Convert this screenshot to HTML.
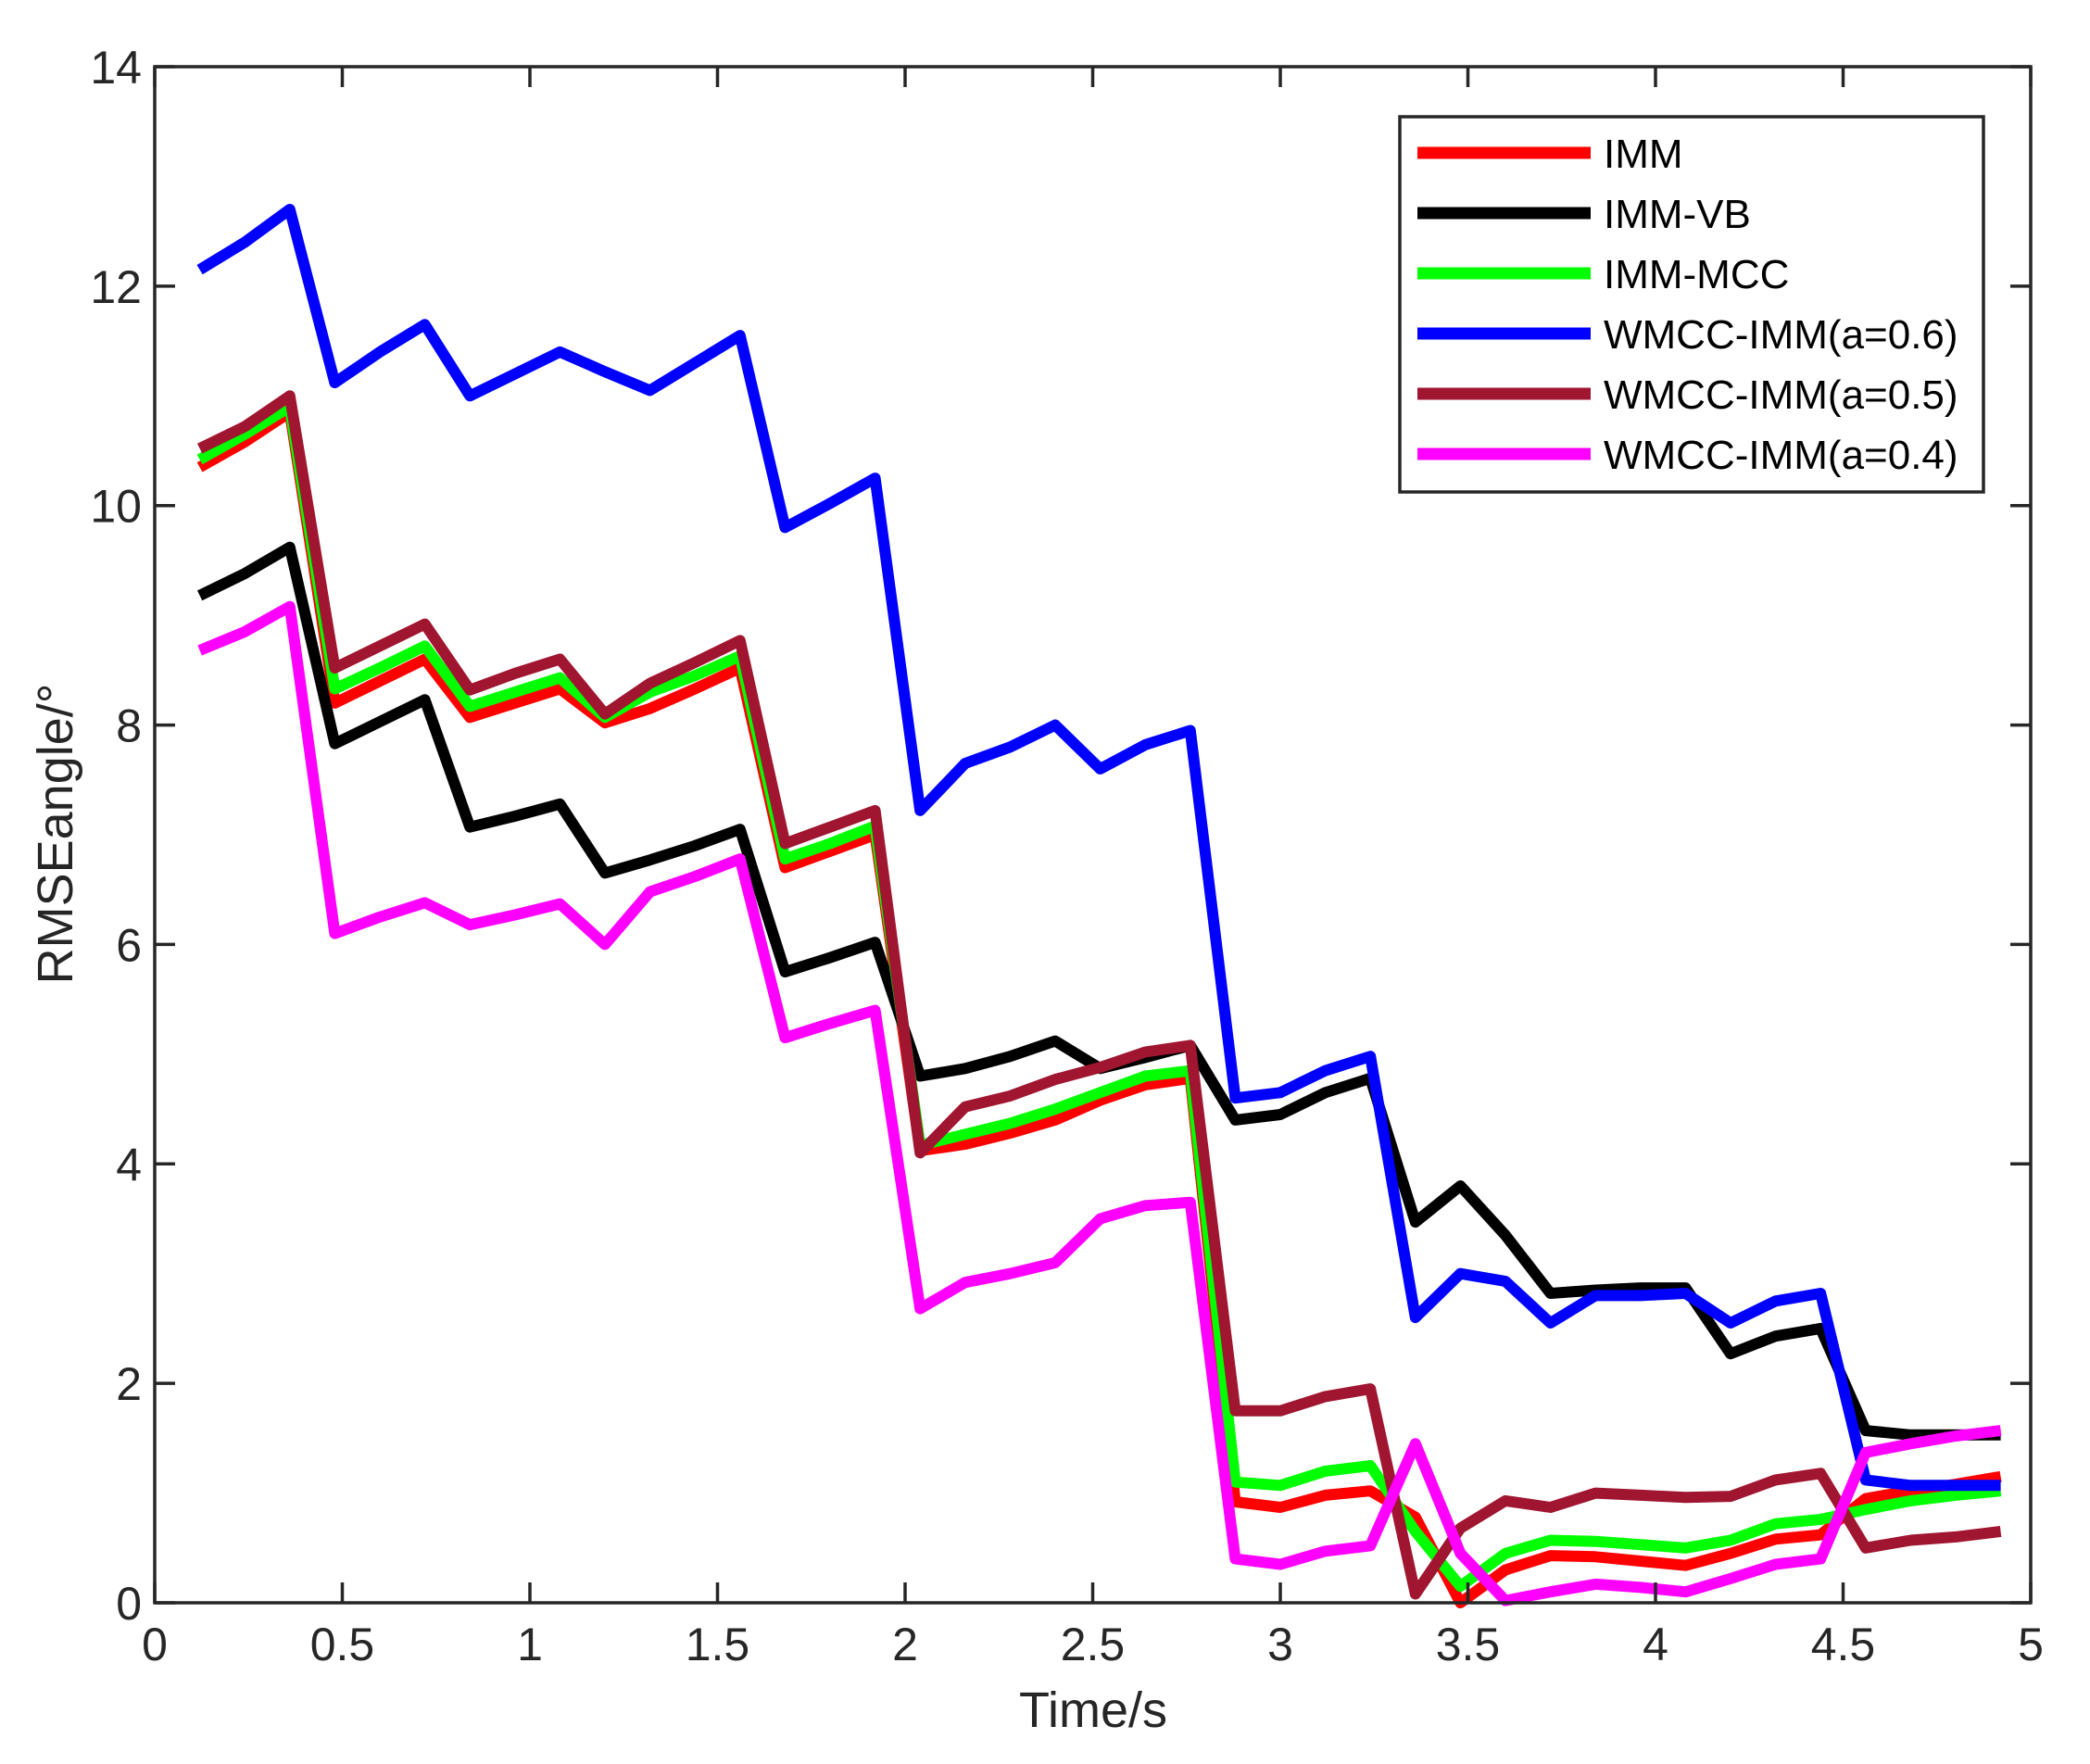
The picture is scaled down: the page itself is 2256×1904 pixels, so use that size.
<!DOCTYPE html>
<html><head><meta charset="utf-8"><style>html,body{margin:0;padding:0;background:#fff}</style></head>
<body>
<svg width="2256" height="1899" viewBox="0 0 2256 1899" xmlns="http://www.w3.org/2000/svg" font-family="Liberation Sans, Arial, sans-serif">
<rect width="2256" height="1899" fill="#fff"/>
<g id="lines" fill="none" stroke-width="12" stroke-linejoin="round" stroke-linecap="butt"></g>
<g stroke="#262626" stroke-width="3.5" fill="none">
<rect x="167" y="72" width="2025" height="1658"/>
<g id="ticks"></g>
</g>
<g id="labels" fill="#262626" font-size="50"></g>
<text x="1180" y="1864" font-size="54" fill="#262626" text-anchor="middle">Time/s</text>
<text transform="translate(78,900) rotate(-90)" font-size="54" fill="#262626" text-anchor="middle">RMSEangle/°</text>
<rect x="1511" y="126" width="630" height="405" fill="#fff" stroke="#262626" stroke-width="3.5"/>
<g id="legend" font-size="44" fill="#000"></g>
<script>
var L=167,R=2192,T=72,B=1730;
function X(t){return L+(t/5)*(R-L);}
function Y(v){return B-(v/14)*(B-T);}
var S=[
["#ff0000","IMM",[10.35,10.58,10.85,8.2,8.4,8.6,8.07,8.2,8.33,8.02,8.15,8.33,8.52,6.7,6.85,7.0,4.12,4.18,4.28,4.4,4.58,4.72,4.78,0.92,0.87,0.98,1.02,0.78,0.0,0.3,0.43,0.42,0.38,0.34,0.45,0.58,0.62,0.95,1.02,1.08,1.15]],
["#000000","IMM-VB",[9.18,9.38,9.62,7.83,8.03,8.23,7.07,7.17,7.28,6.65,6.77,6.9,7.05,5.75,5.88,6.02,4.8,4.87,4.98,5.12,4.87,4.97,5.08,4.4,4.45,4.65,4.78,3.47,3.8,3.35,2.82,2.85,2.87,2.87,2.27,2.43,2.5,1.57,1.53,1.53,1.53]],
["#00ff00","IMM-MCC",[10.42,10.65,10.9,8.33,8.52,8.72,8.17,8.3,8.43,8.07,8.3,8.45,8.63,6.78,6.92,7.08,4.17,4.27,4.37,4.5,4.65,4.8,4.85,1.1,1.07,1.2,1.25,0.65,0.15,0.45,0.57,0.56,0.53,0.5,0.57,0.72,0.76,0.85,0.93,0.98,1.02]],
["#0000ff","WMCC-IMM(a=0.6)",[12.15,12.4,12.7,11.12,11.4,11.65,11.0,11.2,11.4,11.22,11.05,11.3,11.55,9.8,10.02,10.25,7.22,7.65,7.8,8.0,7.6,7.82,7.95,4.6,4.65,4.85,4.98,2.6,3.0,2.93,2.55,2.8,2.8,2.82,2.55,2.75,2.82,1.12,1.07,1.07,1.07]],
["#a01530","WMCC-IMM(a=0.5)",[10.52,10.72,11.0,8.52,8.72,8.92,8.32,8.47,8.6,8.1,8.38,8.57,8.77,6.92,7.07,7.22,4.1,4.52,4.62,4.77,4.88,5.02,5.08,1.75,1.75,1.88,1.95,0.08,0.68,0.93,0.87,1.0,0.98,0.96,0.97,1.12,1.18,0.5,0.57,0.6,0.65]],
["#ff00ff","WMCC-IMM(a=0.4)",[8.68,8.85,9.08,6.1,6.25,6.38,6.18,6.27,6.37,6.0,6.48,6.62,6.78,5.15,5.28,5.4,2.68,2.92,3.0,3.1,3.5,3.62,3.65,0.4,0.35,0.47,0.52,1.45,0.45,0.02,0.1,0.17,0.14,0.1,0.22,0.35,0.4,1.37,1.45,1.52,1.57]]];
var NS="http://www.w3.org/2000/svg",g=document.getElementById("lines"),lg=document.getElementById("legend");
S.forEach(function(s,k){var p=s[2].map(function(v,i){return X(0.12*(i+1)).toFixed(1)+","+Y(v).toFixed(1);}).join(" ");
var e=document.createElementNS(NS,"polyline");e.setAttribute("points",p);e.setAttribute("stroke",s[0]);g.appendChild(e);
var y=165+65*k;var l=document.createElementNS(NS,"line");l.setAttribute("x1",1530);l.setAttribute("x2",1717);l.setAttribute("y1",y);l.setAttribute("y2",y);l.setAttribute("stroke",s[0]);l.setAttribute("stroke-width",13);lg.appendChild(l);
var t=document.createElementNS(NS,"text");t.setAttribute("x",1731);t.setAttribute("y",y+16);t.textContent=s[1];lg.appendChild(t);});
var tk=document.getElementById("ticks"),lb=document.getElementById("labels");
function ln(a,b,c,d){var e=document.createElementNS(NS,"line");e.setAttribute("x1",a);e.setAttribute("y1",b);e.setAttribute("x2",c);e.setAttribute("y2",d);tk.appendChild(e);}
function tx(x,y,s,a){var e=document.createElementNS(NS,"text");e.setAttribute("x",x);e.setAttribute("y",y);e.setAttribute("text-anchor",a);e.textContent=s;lb.appendChild(e);}
for(var i=0;i<=10;i++){var t=i*0.5,x=X(t);ln(x,B,x,B-22);ln(x,T,x,T+22);tx(x,1792,String(t),"middle");}
for(var v=0;v<=14;v+=2){var y=Y(v);ln(L,y,L+22,y);ln(R,y,R-22,y);tx(153,y+18,String(v),"end");}
</script>
</svg>
</body></html>
